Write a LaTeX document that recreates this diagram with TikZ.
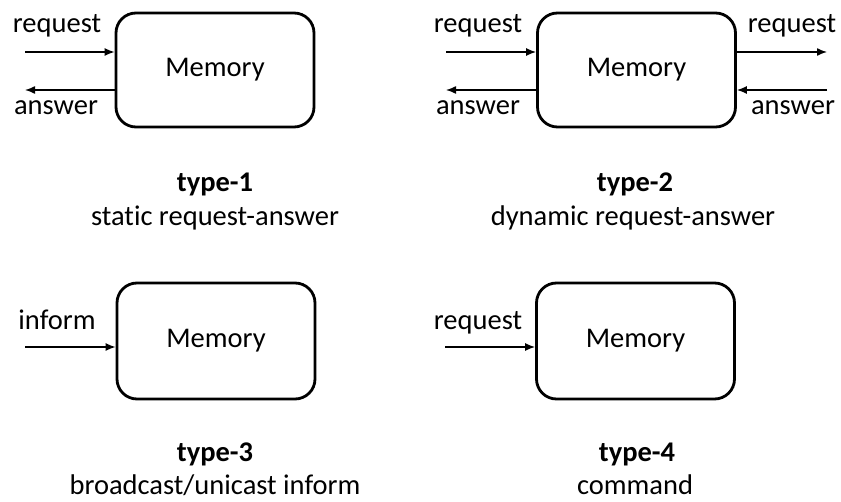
\documentclass[tikz,border=0pt]{standalone}
\usepackage{fontspec}
\setmainfont[Ligatures={NoCommon}]{Carlito}
\usetikzlibrary{arrows.meta}
\begin{document}
\begin{tikzpicture}[x=1pt,y=-1pt,
  memo/.style={draw,line width=2.8pt,rounded corners=20pt,minimum width=198pt,minimum height=114pt,inner sep=0pt,font=\fontsize{28.5}{34}\selectfont},
  lbl/.style={anchor=base,inner sep=0pt,font=\fontsize{28.5}{34}\selectfont},
  ttl/.style={anchor=base,inner sep=0pt,font=\fontsize{28.5}{34}\selectfont\bfseries},
  arr/.style={line width=1.4pt,-{Latex[length=10pt,width=8pt]}}]
\useasboundingbox (0,0) rectangle (841,502);
% boxes
\node[memo] (b1) at (215,70) {Memory};
\node[memo] (b2) at (636.5,70) {Memory};
\node[memo,minimum height=116pt] (b3) at (216,341) {Memory};
\node[memo,minimum height=116pt] (b4) at (635.5,341) {Memory};
% type-1
\coordinate (q1) at (25,52);
\coordinate (a1) at (25,90);
\draw[arr] (q1) -- (q1 -| b1.west);
\draw[arr] (a1 -| b1.west) -- (a1);
\node[lbl] (t1q) at (57,33) {request};
\node[lbl] (t1a) at (56,115) {answer};
\node[ttl] (ty1) at (215,192) {type-1};
\node[lbl] (st1) at (215,226) {static request-answer};
% type-2
\coordinate (q2) at (446,52);
\coordinate (a2) at (446,90);
\coordinate (q2r) at (827,52);
\coordinate (a2r) at (827,90);
\draw[arr] (q2) -- (q2 -| b2.west);
\draw[arr] (a2 -| b2.west) -- (a2);
\draw[arr] (q2r -| b2.east) -- (q2r);
\draw[arr] (a2r) -- (a2r -| b2.east);
\node[lbl] (t2q) at (478,33) {request};
\node[lbl] (t2a) at (478,115) {answer};
\node[lbl] (t2qr) at (792,33) {request};
\node[lbl] (t2ar) at (793,115) {answer};
\node[ttl] (ty2) at (635,192) {type-2};
\node[lbl] (st2) at (633,226) {dynamic request-answer};
% type-3
\coordinate (i3) at (25,347);
\draw[arr] (i3) -- (i3 -| b3.west);
\node[lbl] (t3i) at (57,330) {inform};
\node[ttl] (ty3) at (215,462) {type-3};
\node[lbl] (st3) at (215,494) {broadcast/unicast inform};
% type-4
\coordinate (q4) at (445,347);
\draw[arr] (q4) -- (q4 -| b4.west);
\node[lbl] (t4q) at (478,330) {request};
\node[ttl] (ty4) at (637,462) {type-4};
\node[lbl] (st4) at (635,494) {command};
\end{tikzpicture}
\end{document}
